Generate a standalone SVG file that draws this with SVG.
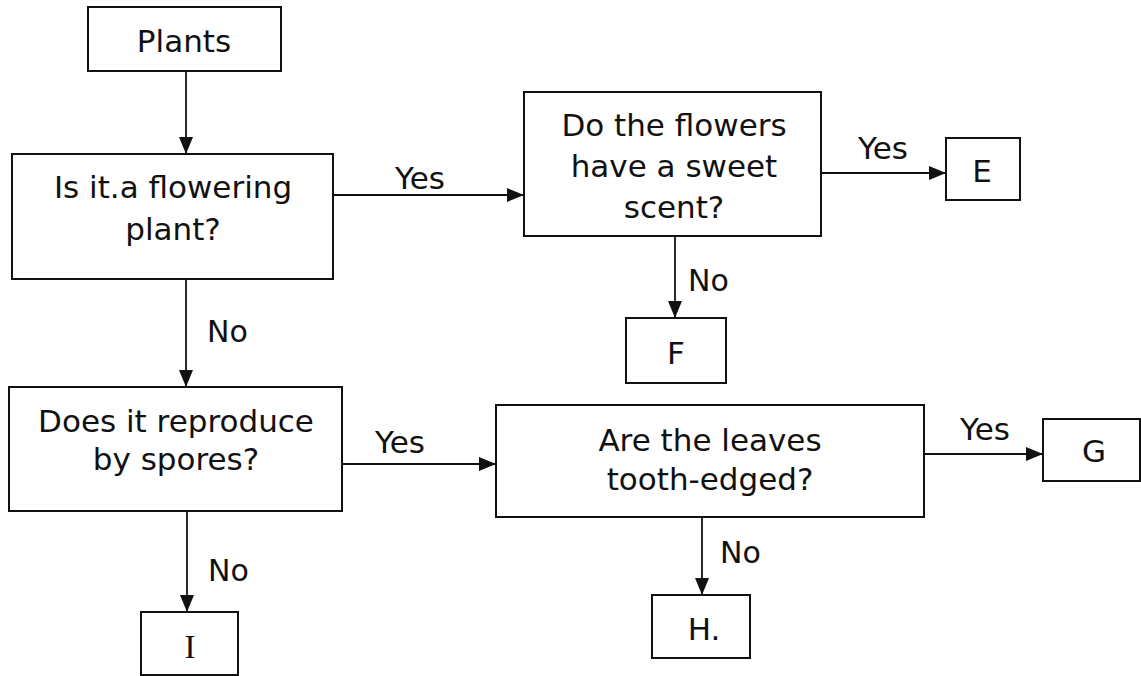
<svg xmlns="http://www.w3.org/2000/svg" width="1141" height="676" viewBox="0 0 1141 676">
<style>
.box{fill:#fff;stroke:#111;stroke-width:2}
.t{font-family:"DejaVu Sans","Liberation Sans",sans-serif;font-size:31px;fill:#111;text-anchor:middle}
.l{font-family:"DejaVu Sans","Liberation Sans",sans-serif;font-size:30px;fill:#111}
.c{fill:none;stroke:#111;stroke-width:1.8}
</style>
<defs>
<marker id="ah" viewBox="0 0 17 14" refX="17" refY="7" markerWidth="17" markerHeight="14" orient="auto" markerUnits="userSpaceOnUse"><path d="M0,0 L17,7 L0,14 z" fill="#111"/></marker>
</defs>
<rect width="1141" height="676" fill="#fff"/>
<g id="connectors">
<path class="c" d="M186,71 V154" marker-end="url(#ah)"/>
<path class="c" d="M333,195 H524" marker-end="url(#ah)"/>
<path class="c" d="M186,279 V387" marker-end="url(#ah)"/>
<path class="c" d="M821,173 H946" marker-end="url(#ah)"/>
<path class="c" d="M675,236 V318" marker-end="url(#ah)"/>
<path class="c" d="M342,464 H496" marker-end="url(#ah)"/>
<path class="c" d="M187,511 V612" marker-end="url(#ah)"/>
<path class="c" d="M924,454 H1043" marker-end="url(#ah)"/>
<path class="c" d="M702,517 V595" marker-end="url(#ah)"/>
<text class="t" x="420" y="189">Yes</text>
<text class="l" x="207" y="342">No</text>
<text class="t" x="883" y="159">Yes</text>
<text class="l" x="688" y="291">No</text>
<text class="t" x="400" y="453">Yes</text>
<text class="l" x="208" y="581">No</text>
<text class="t" x="985" y="440">Yes</text>
<text class="l" x="720" y="563">No</text>
</g>
<g id="plants"><rect class="box" x="88" y="7" width="193" height="64"/><text class="t" x="184" y="52">Plants</text></g>
<g id="q-flowering"><rect class="box" x="12" y="154" width="321" height="125"/><text class="t" x="173" y="198">Is it.a flowering</text><text class="t" x="173" y="240">plant?</text></g>
<g id="q-scent"><rect class="box" x="524" y="92" width="297" height="144"/><text class="t" x="674" y="136">Do the flowers</text><text class="t" x="674" y="177">have a sweet</text><text class="t" x="674" y="218">scent?</text></g>
<g id="E"><rect class="box" x="946" y="138" width="74" height="62"/><text class="t" x="982" y="182">E</text></g>
<g id="F"><rect class="box" x="626" y="318" width="100" height="65"/><text class="t" x="676" y="364">F</text></g>
<g id="q-spores"><rect class="box" x="9" y="387" width="333" height="124"/><text class="t" x="176" y="432">Does it reproduce</text><text class="t" x="176" y="470">by spores?</text></g>
<g id="I"><rect class="box" x="141" y="612" width="97" height="63"/><text class="t" x="190" y="658" style="font-family:'Liberation Serif',serif;font-size:33px">I</text></g>
<g id="q-leaves"><rect class="box" x="496" y="405" width="428" height="112"/><text class="t" x="710" y="451">Are the leaves</text><text class="t" x="710" y="490">tooth-edged?</text></g>
<g id="G"><rect class="box" x="1043" y="419" width="97" height="62"/><text class="t" x="1094" y="462">G</text></g>
<g id="H"><rect class="box" x="652" y="595" width="98" height="63"/><text class="t" x="704" y="640">H.</text></g>
</svg>
